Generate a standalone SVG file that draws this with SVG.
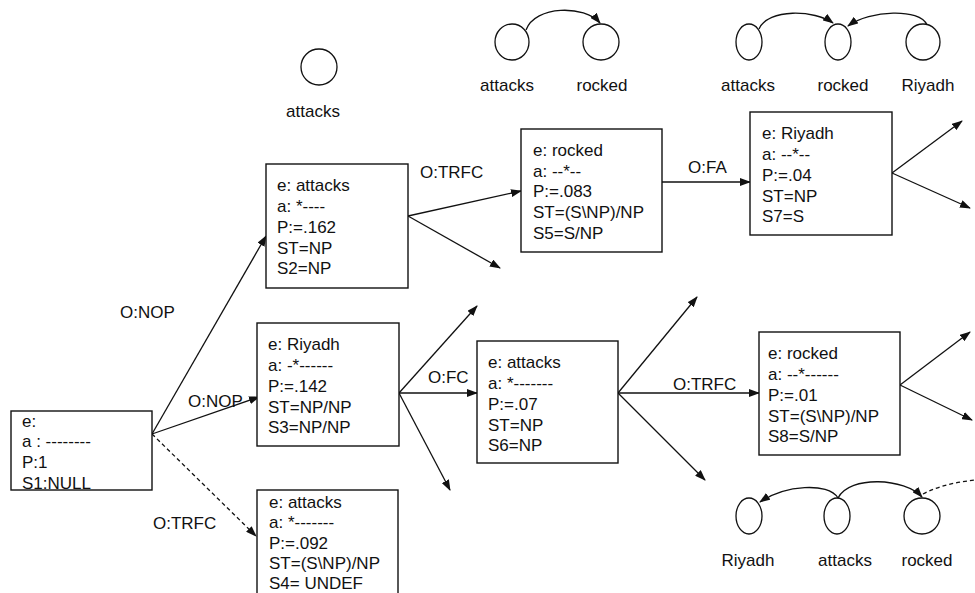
<svg xmlns="http://www.w3.org/2000/svg" width="975" height="593" viewBox="0 0 975 593">
<style>
text{font-family:"Liberation Sans",Arial,sans-serif;font-size:17px;fill:#111}
.box{fill:#fff;stroke:#111;stroke-width:1.4}
.c{fill:none;stroke:#111;stroke-width:1.3}
.d{stroke-dasharray:4,3}
.e{fill:none;stroke:#111;stroke-width:1.3}
.m{text-anchor:middle}
</style>
<defs>
<marker id="ah" markerUnits="userSpaceOnUse" markerWidth="11" markerHeight="8" refX="10" refY="4" orient="auto"><path d="M0,0 L11,4 L0,8 z" fill="#111"/></marker>
</defs>
<rect width="975" height="593" fill="#fff"/>
<g id="connectors">
<path class="c" d="M152,434 L266,236" marker-end="url(#ah)"/>
<path class="c" d="M152,434 L259,397" marker-end="url(#ah)"/>
<path class="c d" d="M152,434 L256,536" marker-end="url(#ah)"/>
<path class="c" d="M408,216 L521,191" marker-end="url(#ah)"/>
<path class="c" d="M408,216 L500,268" marker-end="url(#ah)"/>
<path class="c" d="M662,182 L750,182" marker-end="url(#ah)"/>
<path class="c" d="M892,173 L962,121" marker-end="url(#ah)"/>
<path class="c" d="M892,173 L970,208" marker-end="url(#ah)"/>
<path class="c" d="M399,393 L477,306" marker-end="url(#ah)"/>
<path class="c" d="M399,393 L477,393" marker-end="url(#ah)"/>
<path class="c" d="M399,393 L450,490" marker-end="url(#ah)"/>
<path class="c" d="M618,393 L697,297" marker-end="url(#ah)"/>
<path class="c" d="M618,393 L759,393" marker-end="url(#ah)"/>
<path class="c" d="M618,393 L705,480" marker-end="url(#ah)"/>
<path class="c" d="M900,385 L970,332" marker-end="url(#ah)"/>
<path class="c" d="M900,385 L972,420" marker-end="url(#ah)"/>
<text x="120" y="318">O:NOP</text>
<text x="188" y="407">O:NOP</text>
<text x="153" y="529">O:TRFC</text>
<text x="420" y="178">O:TRFC</text>
<text x="688" y="173">O:FA</text>
<text x="428" y="383">O:FC</text>
<text x="673" y="390">O:TRFC</text>
</g>
<g id="root">
<rect class="box" x="11" y="411" width="141" height="79"/>
<text x="22" y="427">e:</text>
<text x="22" y="447">a : --------</text>
<text x="22" y="468">P:1</text>
<text x="22" y="489">S1:NULL</text>
</g>
<g id="n-attacks-1">
<rect class="box" x="266" y="164" width="142" height="124"/>
<text x="277" y="191">e: attacks</text>
<text x="277" y="212">a: *----</text>
<text x="277" y="233">P:=.162</text>
<text x="277" y="254">ST=NP</text>
<text x="277" y="274">S2=NP</text>
</g>
<g id="n-riyadh-1">
<rect class="box" x="257" y="323" width="142" height="123"/>
<text x="268" y="350">e: Riyadh</text>
<text x="268" y="371">a: -*------</text>
<text x="268" y="392">P:=.142</text>
<text x="268" y="413">ST=NP/NP</text>
<text x="268" y="433">S3=NP/NP</text>
</g>
<g id="n-attacks-2">
<rect class="box" x="257" y="490" width="141" height="110"/>
<text x="269" y="508">e: attacks</text>
<text x="269" y="528">a: *-------</text>
<text x="269" y="549">P:=.092</text>
<text x="269" y="569">ST=(S\NP)/NP</text>
<text x="269" y="589">S4= UNDEF</text>
</g>
<g id="n-rocked-1">
<rect class="box" x="521" y="129" width="141" height="123"/>
<text x="533" y="156">e: rocked</text>
<text x="533" y="177">a: --*--</text>
<text x="533" y="197">P:=.083</text>
<text x="533" y="218">ST=(S\NP)/NP</text>
<text x="533" y="239">S5=S/NP</text>
</g>
<g id="n-riyadh-2">
<rect class="box" x="750" y="112" width="142" height="123"/>
<text x="762" y="139">e: Riyadh</text>
<text x="762" y="160">a: --*--</text>
<text x="762" y="181">P:=.04</text>
<text x="762" y="202">ST=NP</text>
<text x="762" y="222">S7=S</text>
</g>
<g id="n-attacks-3">
<rect class="box" x="477" y="341" width="141" height="122"/>
<text x="488" y="368">e: attacks</text>
<text x="488" y="389">a: *-------</text>
<text x="488" y="410">P:=.07</text>
<text x="488" y="431">ST=NP</text>
<text x="488" y="451">S6=NP</text>
</g>
<g id="n-rocked-2">
<rect class="box" x="759" y="332" width="141" height="123"/>
<text x="768" y="359">e: rocked</text>
<text x="768" y="380">a: --*------</text>
<text x="768" y="401">P:=.01</text>
<text x="768" y="422">ST=(S\NP)/NP</text>
<text x="768" y="442">S8=S/NP</text>
</g>
<g id="tree-0">
<circle class="e" cx="319" cy="67" r="18"/>
<text class="m" x="313" y="117">attacks</text>
</g>
<g id="tree-1">
<ellipse class="e" cx="512" cy="42" rx="17" ry="18"/>
<ellipse class="e" cx="601" cy="42" rx="18" ry="18"/>
<path class="c" d="M526,30 C535,5 585,5 600,23" marker-end="url(#ah)"/>
<text class="m" x="507" y="91">attacks</text>
<text class="m" x="602" y="91">rocked</text>
</g>
<g id="tree-2">
<ellipse class="e" cx="749" cy="42" rx="13" ry="18"/>
<ellipse class="e" cx="838" cy="42" rx="13" ry="18"/>
<ellipse class="e" cx="923" cy="42" rx="17" ry="18"/>
<path class="c" d="M759,29 C768,8 815,10 833,23" marker-end="url(#ah)"/>
<path class="c" d="M927,25 C920,8 870,10 848,26" marker-end="url(#ah)"/>
<text class="m" x="748" y="91">attacks</text>
<text class="m" x="843" y="91">rocked</text>
<text class="m" x="928" y="91">Riyadh</text>
</g>
<g id="tree-3">
<ellipse class="e" cx="749" cy="516" rx="13" ry="18"/>
<ellipse class="e" cx="837" cy="516" rx="13" ry="18"/>
<ellipse class="e" cx="922" cy="516" rx="18" ry="18"/>
<path class="c" d="M838,498 C828,482 785,485 760,502" marker-end="url(#ah)"/>
<path class="c" d="M838,498 C850,475 905,478 922,497" marker-end="url(#ah)"/>
<path class="c d" d="M923,494 C940,485 958,482 975,480"/>
<text class="m" x="748" y="566">Riyadh</text>
<text class="m" x="845" y="566">attacks</text>
<text class="m" x="927" y="566">rocked</text>
</g>
</svg>
